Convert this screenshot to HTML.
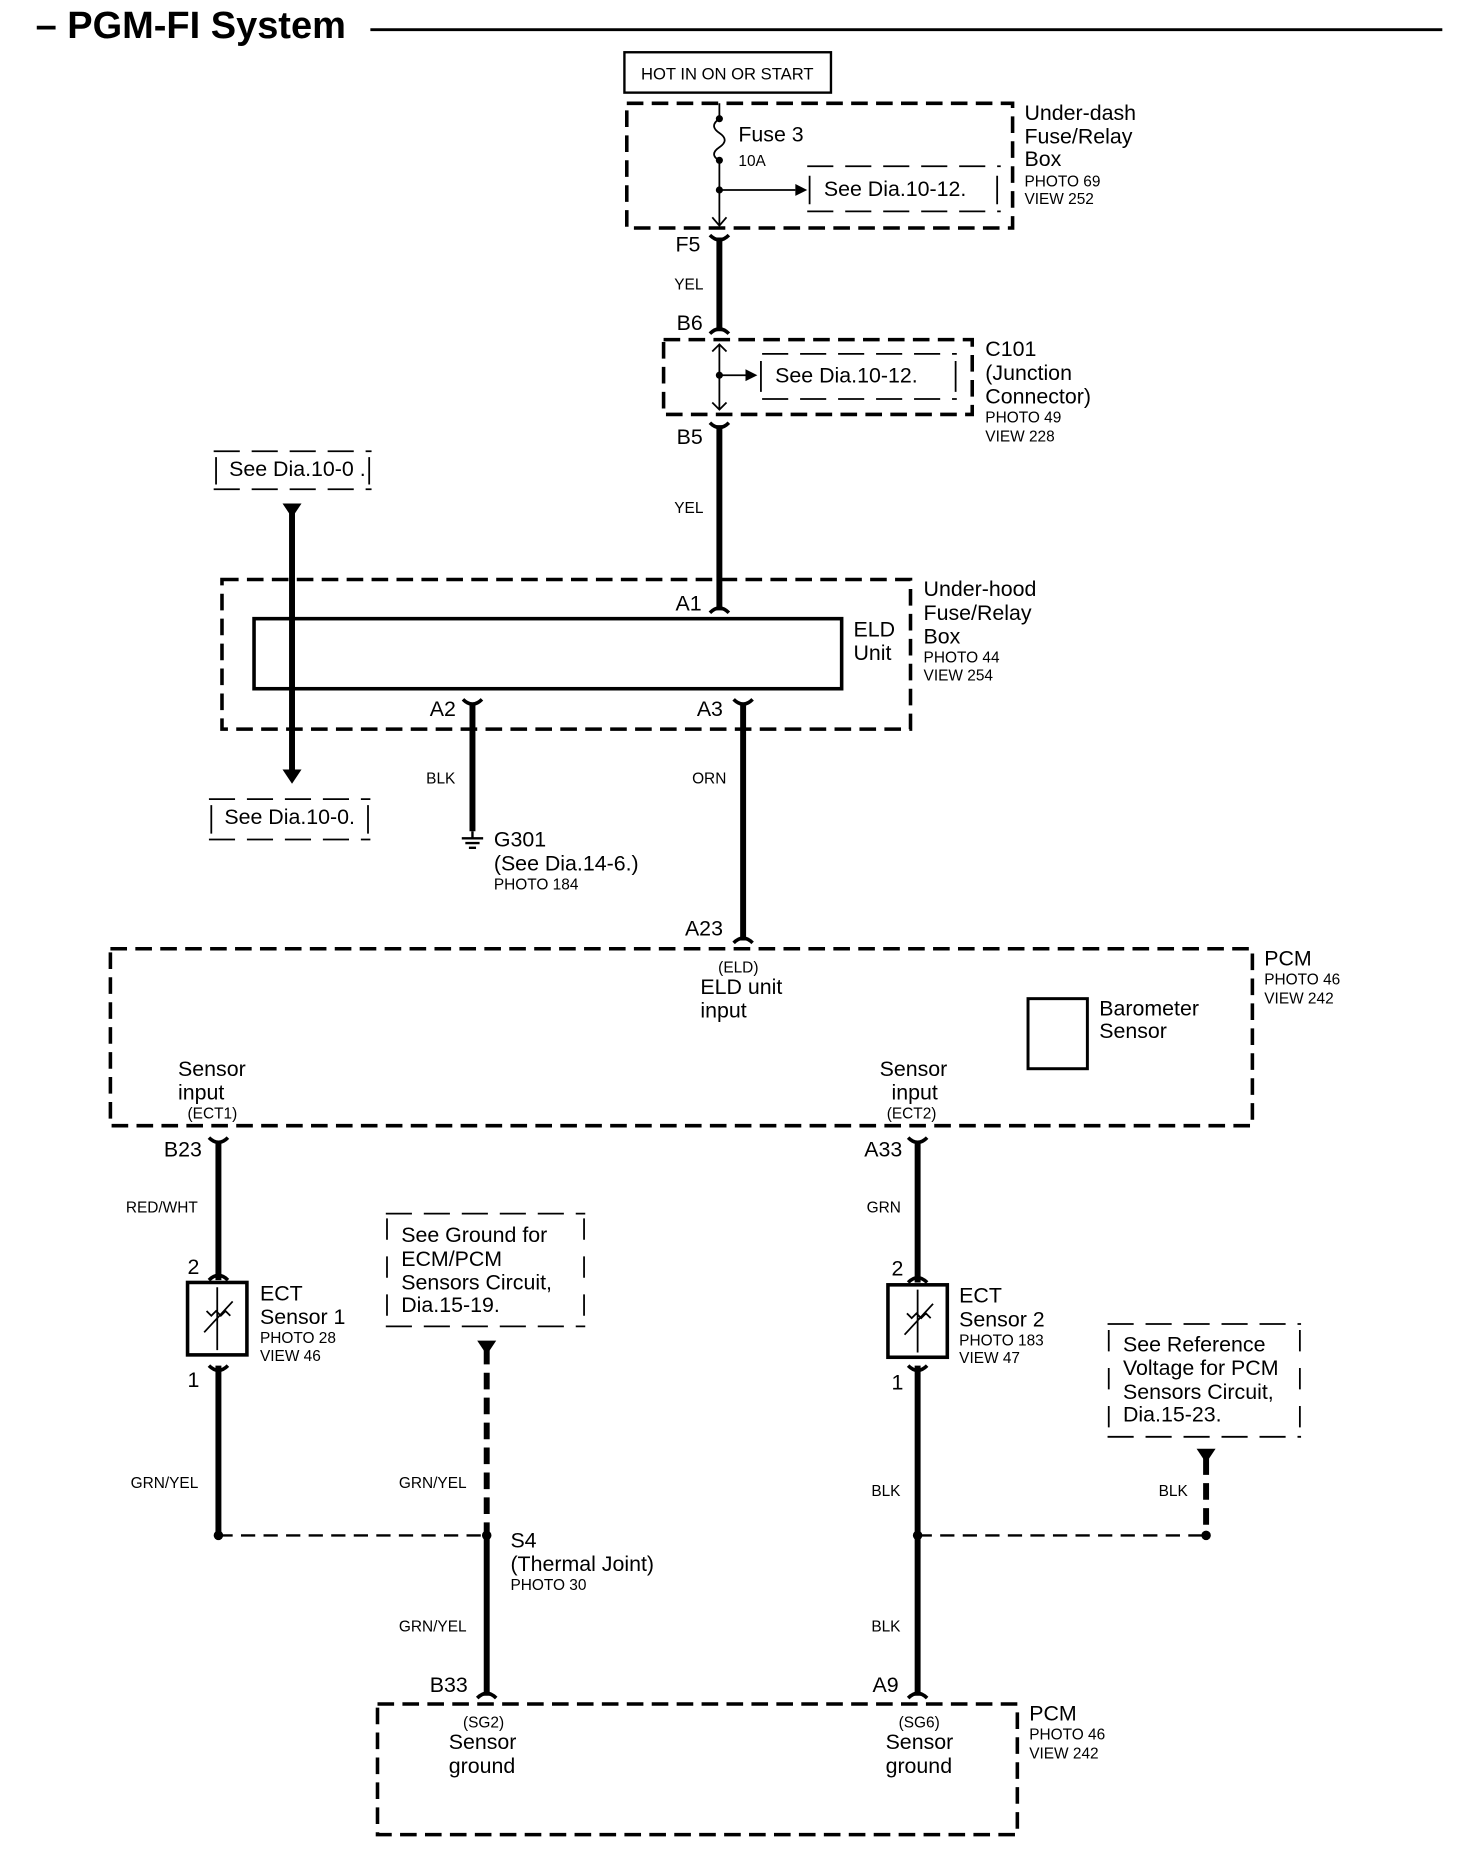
<!DOCTYPE html>
<html><head><style>
html,body{margin:0;padding:0;background:#fff;}
svg{display:block;}
text{font-family:"Liberation Sans",sans-serif;fill:#000;}
.l{font-size:18px;}
.s{font-size:13px;}
.m{font-size:14px;}
</style></head><body>
<svg width="1472" height="1856" viewBox="0 0 1240 1563" preserveAspectRatio="none" xmlns="http://www.w3.org/2000/svg">
<rect width="1240" height="1563" fill="#fff"/>
<text x="30" y="32" style="font-size:32px;font-weight:bold">– PGM-FI System</text>
<line x1="312" y1="25" x2="1215" y2="25" stroke="#000" stroke-width="2.5"/>

<g fill="none" stroke="#000">
<rect x="526" y="44" width="174" height="34" stroke-width="2"/>
<g stroke-width="3" stroke-dasharray="14,7">
<rect x="528" y="87" width="325" height="105"/>
<rect x="559" y="286" width="260" height="63"/>
<rect x="187" y="488" width="580" height="126"/>
<rect x="93" y="799" width="962" height="149"/>
<rect x="318" y="1435" width="539" height="110"/>
</g>
<g stroke-width="1.5">
<path d="M680 140H843M680 178H843" stroke-dasharray="22,10"/>
<path d="M682 148V172M840 148V172"/>
<path d="M642 298H806M642 336H806" stroke-dasharray="22,10"/>
<path d="M641 304V330M805 304V330"/>
<path d="M180 380H313M180 412H313" stroke-dasharray="22,10"/>
<path d="M182 385V408M311 385V408"/>
<path d="M176 673H312M176 707H312" stroke-dasharray="22,10"/>
<path d="M178 678V702M310 678V702"/>
<path d="M325 1022H493M325 1117H493" stroke-dasharray="22,10"/>
<path d="M326 1026V1110M492 1026V1110" stroke-dasharray="18,14"/>
<path d="M933 1115H1096M933 1210H1096" stroke-dasharray="22,10"/>
<path d="M934 1120V1205M1095 1120V1205" stroke-dasharray="18,14"/>
</g>
<path d="M606 87V100M606 135V190" stroke-width="1.5"/>
<path d="M606 100c-6 4 -6 8 0 12c6 4 6 8 0 12c-6 4-6 8 0 11" stroke-width="1.5"/>
<path d="M606 160H670" stroke-width="1.5"/>
<path d="M600 183L606 190L612 183" stroke-width="1.5"/>
<path d="M606 290V345M606 316H630" stroke-width="1.5"/>
<path d="M600 296L606 290L612 296M600 339L606 345L612 339" stroke-width="1.5"/>
<g stroke-width="5">
<path d="M606 200V279M606 358V514M626 592V792M398 592V700M184 962V1078M184 1150V1293M773 962V1080M773 1150V1428M410 1293V1428M246 430V650"/>
<path d="M410 1135V1293M1016 1228V1293" stroke-dasharray="14,7"/>
</g>
<path d="M184 1293H410M773 1293H1016" stroke-width="2" stroke-dasharray="12,7"/>
<g stroke-width="3">
<path d="M598 198Q606 206 614 198M598 281Q606 273 614 281M598 356Q606 364 614 356M598 516Q606 508 614 516"/>
<path d="M390 589Q398 597 406 589M618 589Q626 597 634 589M618 794Q626 786 634 794"/>
<path d="M176 958Q184 966 192 958M765 958Q773 966 781 958M176 1078Q184 1070 192 1078M176 1150Q184 1158 192 1150M765 1080Q773 1072 781 1080M765 1150Q773 1158 781 1150"/>
<path d="M402 1430Q410 1422 418 1430M765 1430Q773 1422 781 1430"/>
</g>
<rect x="214" y="521" width="495" height="59" stroke-width="3"/>
<rect x="866" y="841" width="50" height="59" stroke-width="2.5"/>
<rect x="158" y="1080" width="50" height="61" stroke-width="3"/>
<rect x="748" y="1082" width="50" height="61" stroke-width="3"/>
<g stroke-width="1.5">
<path d="M183 1084V1137M773 1086V1139"/>
<path d="M172 1122L196 1096M762 1124L786 1098"/>
<path d="M174 1104l4 4l4-4l4 4l4-4l4 4M764 1106l4 4l4-4l4 4l4-4l4 4"/>
</g>
<path d="M398 700V706M389 706H407M392 710H404M395 714H401" stroke-width="2"/>
</g>
<g fill="#000">
<circle cx="606" cy="100" r="3"/><circle cx="606" cy="135" r="3"/><circle cx="606" cy="160" r="3"/>
<circle cx="606" cy="316" r="3"/>
<polygon points="670,155 680,160 670,165"/><polygon points="628,311 638,316 628,321"/>
<polygon points="238,424 254,424 246,436"/><polygon points="238,648 254,648 246,660"/>
<polygon points="402,1129 418,1129 410,1141"/><polygon points="1008,1220 1024,1220 1016,1232"/>
<circle cx="184" cy="1293" r="4"/><circle cx="410" cy="1293" r="4"/><circle cx="773" cy="1293" r="4"/><circle cx="1016" cy="1293" r="4"/>
</g>

<text x="540" y="67" class="m">HOT IN ON OR START</text>
<text x="622" y="119" class="l">Fuse 3</text><text x="622" y="140" class="s">10A</text>
<text x="694" y="165" class="l">See Dia.10-12.</text>
<text x="863" y="101" class="l">Under-dash</text><text x="863" y="121" class="l">Fuse/Relay</text><text x="863" y="140" class="l">Box</text>
<text x="863" y="157" class="s">PHOTO 69</text><text x="863" y="172" class="s">VIEW 252</text>
<text x="569" y="212" class="l">F5</text><text x="568" y="244" class="s">YEL</text><text x="570" y="278" class="l">B6</text>
<text x="653" y="322" class="l">See Dia.10-12.</text>
<text x="830" y="300" class="l">C101</text><text x="830" y="320" class="l">(Junction</text><text x="830" y="340" class="l">Connector)</text>
<text x="830" y="356" class="s">PHOTO 49</text><text x="830" y="372" class="s">VIEW 228</text>
<text x="570" y="374" class="l">B5</text><text x="568" y="432" class="s">YEL</text>
<text x="193" y="401" class="l">See Dia.10-0 .</text>
<text x="569" y="514" class="l">A1</text>
<text x="719" y="536" class="l">ELD</text><text x="719" y="556" class="l">Unit</text>
<text x="778" y="502" class="l">Under-hood</text><text x="778" y="522" class="l">Fuse/Relay</text><text x="778" y="542" class="l">Box</text>
<text x="778" y="558" class="s">PHOTO 44</text><text x="778" y="573" class="s">VIEW 254</text>
<text x="362" y="603" class="l">A2</text><text x="587" y="603" class="l">A3</text>
<text x="359" y="660" class="s">BLK</text><text x="583" y="660" class="s">ORN</text>
<text x="189" y="694" class="l">See Dia.10-0.</text>
<text x="416" y="713" class="l">G301</text><text x="416" y="733" class="l">(See Dia.14-6.)</text><text x="416" y="749" class="s">PHOTO 184</text>
<text x="577" y="788" class="l">A23</text>
<text x="605" y="819" class="s">(ELD)</text><text x="590" y="837" class="l">ELD unit</text><text x="590" y="857" class="l">input</text>
<text x="926" y="855" class="l">Barometer</text><text x="926" y="874" class="l">Sensor</text>
<text x="1065" y="813" class="l">PCM</text><text x="1065" y="829" class="s">PHOTO 46</text><text x="1065" y="845" class="s">VIEW 242</text>
<text x="150" y="906" class="l">Sensor</text><text x="150" y="926" class="l">input</text><text x="158" y="942" class="s">(ECT1)</text>
<text x="741" y="906" class="l">Sensor</text><text x="751" y="926" class="l">input</text><text x="747" y="942" class="s">(ECT2)</text>
<text x="138" y="974" class="l">B23</text><text x="728" y="974" class="l">A33</text>
<text x="106" y="1021" class="s">RED/WHT</text><text x="730" y="1021" class="s">GRN</text>
<text x="158" y="1073" class="l">2</text><text x="751" y="1074" class="l">2</text>
<text x="158" y="1168" class="l">1</text><text x="751" y="1170" class="l">1</text>
<text x="219" y="1095" class="l">ECT</text><text x="219" y="1115" class="l">Sensor 1</text><text x="219" y="1131" class="s">PHOTO 28</text><text x="219" y="1146" class="s">VIEW 46</text>
<text x="808" y="1097" class="l">ECT</text><text x="808" y="1117" class="l">Sensor 2</text><text x="808" y="1133" class="s">PHOTO 183</text><text x="808" y="1148" class="s">VIEW 47</text>
<text x="338" y="1046" class="l">See Ground for</text><text x="338" y="1066" class="l">ECM/PCM</text><text x="338" y="1086" class="l">Sensors Circuit,</text><text x="338" y="1105" class="l">Dia.15-19.</text>
<text x="946" y="1138" class="l">See  Reference</text><text x="946" y="1158" class="l">Voltage for PCM</text><text x="946" y="1178" class="l">Sensors Circuit,</text><text x="946" y="1197" class="l">Dia.15-23.</text>
<text x="110" y="1253" class="s">GRN/YEL</text><text x="336" y="1253" class="s">GRN/YEL</text><text x="734" y="1260" class="s">BLK</text><text x="976" y="1260" class="s">BLK</text>
<text x="430" y="1303" class="l">S4</text><text x="430" y="1323" class="l">(Thermal Joint)</text><text x="430" y="1339" class="s">PHOTO 30</text>
<text x="336" y="1374" class="s">GRN/YEL</text><text x="734" y="1374" class="s">BLK</text>
<text x="362" y="1425" class="l">B33</text><text x="735" y="1425" class="l">A9</text>
<text x="390" y="1455" class="s">(SG2)</text><text x="378" y="1473" class="l">Sensor</text><text x="378" y="1493" class="l">ground</text>
<text x="757" y="1455" class="s">(SG6)</text><text x="746" y="1473" class="l">Sensor</text><text x="746" y="1493" class="l">ground</text>
<text x="867" y="1449" class="l">PCM</text><text x="867" y="1465" class="s">PHOTO 46</text><text x="867" y="1481" class="s">VIEW 242</text>
</svg>
</body></html>
